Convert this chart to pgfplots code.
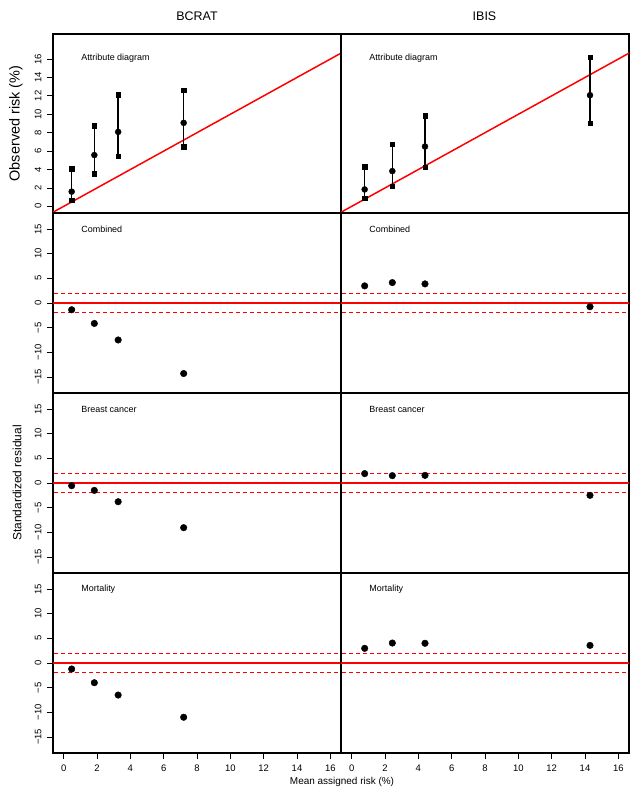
\documentclass[border=0pt]{standalone}
\usepackage{pgfplots}
\pgfplotsset{compat=1.18}
\usepackage{fontspec}
\setmainfont{Liberation Sans}
\tikzset{lab/.style={font=\fontsize{9}{10}\selectfont, anchor=west}}
\pgfplotsset{
  panel/.style={scale only axis, width=288bp, height=180bp,
    xmin=-0.64, xmax=16.64, anchor=south west,
    axis line style={line width=1.2bp, black},
    tick style={black, line width=0.8bp},
    tick align=outside, major tick length=6bp,
    xtick=\empty, ytick=\empty,
    xtick pos=bottom, ytick pos=left,
    tick label style={font=\fontsize{9.5}{10}\selectfont},
    yticklabel style={rotate=90, anchor=south},
    xticklabel shift=2bp, yticklabel shift=2bp,
  },
  resid/.style={panel, ymin=-18.25, ymax=18.25},
  ytres/.style={ytick={-15,-10,-5,0,5,10,15}, yticklabels={−15,−10,−5,0,5,10,15}},
  xtbot/.style={xtick={0,2,4,6,8,10,12,14,16}, xticklabels={0,2,4,6,8,10,12,14,16}},
  refl/.style={draw=red, color=red, line width=1.5bp},
  refd/.style={draw=red, color=red, line width=1.2bp, dash pattern=on 4bp off 3bp},
  dot/.style={only marks, mark=*, mark size=3.3bp, black, mark options={fill=black}},
  ci/.style={only marks, mark=*, mark size=3bp, black, mark options={fill=black},
    error bars/.cd, y dir=both, y explicit, error mark=square*,
    error mark options={mark size=2.2bp, black, fill=black},
    error bar style={line width=1.5bp, black}},
}
\begin{document}
\begin{tikzpicture}
\useasboundingbox (0,0) rectangle (642bp,799bp);
% ---------- Row 1: attribute diagrams ----------
\begin{axis}[panel, at={(53bp,586bp)}, height=179bp, ymin=-0.72, ymax=18.72,
  ytick={0,2,4,6,8,10,12,14,16}, yticklabels={0,2,4,6,8,10,12,14,16}]
\addplot[refl] coordinates {(-1,-1) (18,18)};
\addplot[ci] coordinates {
(0.48,1.60) += (0,2.50) -= (0,0.95)
(1.84,5.57) += (0,3.17) -= (0,2.03)
(3.27,8.09) += (0,4.04) -= (0,2.67)
(7.20,9.07) += (0,3.53) -= (0,2.57)
};
\node[lab] at (axis cs:0.85,16.1) {Attribute diagram};
\end{axis}
\begin{axis}[panel, at={(341bp,586bp)}, height=179bp, ymin=-0.72, ymax=18.72]
\addplot[refl] coordinates {(-1,-1) (18,18)};
\addplot[ci] coordinates {
(0.78,1.84) += (0,2.46) -= (0,0.97)
(2.44,3.83) += (0,2.93) -= (0,1.66)
(4.40,6.50) += (0,3.36) -= (0,2.27)
(14.30,12.07) += (0,4.12) -= (0,3.07)
};
\node[lab] at (axis cs:0.85,16.1) {Attribute diagram};
\end{axis}
% ---------- Row 2: combined ----------
\begin{axis}[resid, ytres, at={(53bp,406bp)}]
\addplot[refl] coordinates {(-1,0) (18,0)};
\addplot[refd] coordinates {(-1,2) (18,2)};
\addplot[refd] coordinates {(-1,-2) (18,-2)};
\addplot[dot] coordinates {(0.48,-1.37) (1.84,-4.15) (3.27,-7.5) (7.2,-14.3)};
\node[lab] at (axis cs:0.85,15) {Combined};
\end{axis}
\begin{axis}[resid, at={(341bp,406bp)}]
\addplot[refl] coordinates {(-1,0) (18,0)};
\addplot[refd] coordinates {(-1,2) (18,2)};
\addplot[refd] coordinates {(-1,-2) (18,-2)};
\addplot[dot] coordinates {(0.78,3.47) (2.44,4.14) (4.4,3.87) (14.3,-0.76)};
\node[lab] at (axis cs:0.85,15) {Combined};
\end{axis}
% ---------- Row 3: breast cancer ----------
\begin{axis}[resid, ytres, at={(53bp,226bp)}]
\addplot[refl] coordinates {(-1,0) (18,0)};
\addplot[refd] coordinates {(-1,2) (18,2)};
\addplot[refd] coordinates {(-1,-2) (18,-2)};
\addplot[dot] coordinates {(0.48,-0.55) (1.84,-1.5) (3.27,-3.8) (7.2,-9.06)};
\node[lab] at (axis cs:0.85,15) {Breast cancer};
\end{axis}
\begin{axis}[resid, at={(341bp,226bp)}]
\addplot[refl] coordinates {(-1,0) (18,0)};
\addplot[refd] coordinates {(-1,2) (18,2)};
\addplot[refd] coordinates {(-1,-2) (18,-2)};
\addplot[dot] coordinates {(0.78,1.9) (2.44,1.49) (4.4,1.55) (14.3,-2.5)};
\node[lab] at (axis cs:0.85,15) {Breast cancer};
\end{axis}
% ---------- Row 4: mortality ----------
\begin{axis}[resid, ytres, xtbot, at={(53bp,46bp)}]
\addplot[refl] coordinates {(-1,0) (18,0)};
\addplot[refd] coordinates {(-1,2) (18,2)};
\addplot[refd] coordinates {(-1,-2) (18,-2)};
\addplot[dot] coordinates {(0.48,-1.22) (1.84,-4.0) (3.27,-6.5) (7.2,-11.0)};
\node[lab] at (axis cs:0.85,15) {Mortality};
\end{axis}
\begin{axis}[resid, xtbot, at={(341bp,46bp)}]
\addplot[refl] coordinates {(-1,0) (18,0)};
\addplot[refd] coordinates {(-1,2) (18,2)};
\addplot[refd] coordinates {(-1,-2) (18,-2)};
\addplot[dot] coordinates {(0.78,2.97) (2.44,4.05) (4.4,4.0) (14.3,3.57)};
\node[lab] at (axis cs:0.85,15) {Mortality};
\end{axis}
% ---------- outer texts ----------
\node[font=\fontsize{12.5}{14}\selectfont] at (197bp,783bp) {BCRAT};
\node[font=\fontsize{12.5}{14}\selectfont] at (484.5bp,783bp) {IBIS};
\node[rotate=90, font=\fontsize{14.5}{16}\selectfont] at (16bp,675.5bp) {Observed risk (\%)};
\node[rotate=90, font=\fontsize{12}{14}\selectfont] at (17bp,316bp) {Standardized residual};
\node[font=\fontsize{10}{12}\selectfont] at (342bp,17bp) {Mean assigned risk (\%)};
\end{tikzpicture}
\end{document}
